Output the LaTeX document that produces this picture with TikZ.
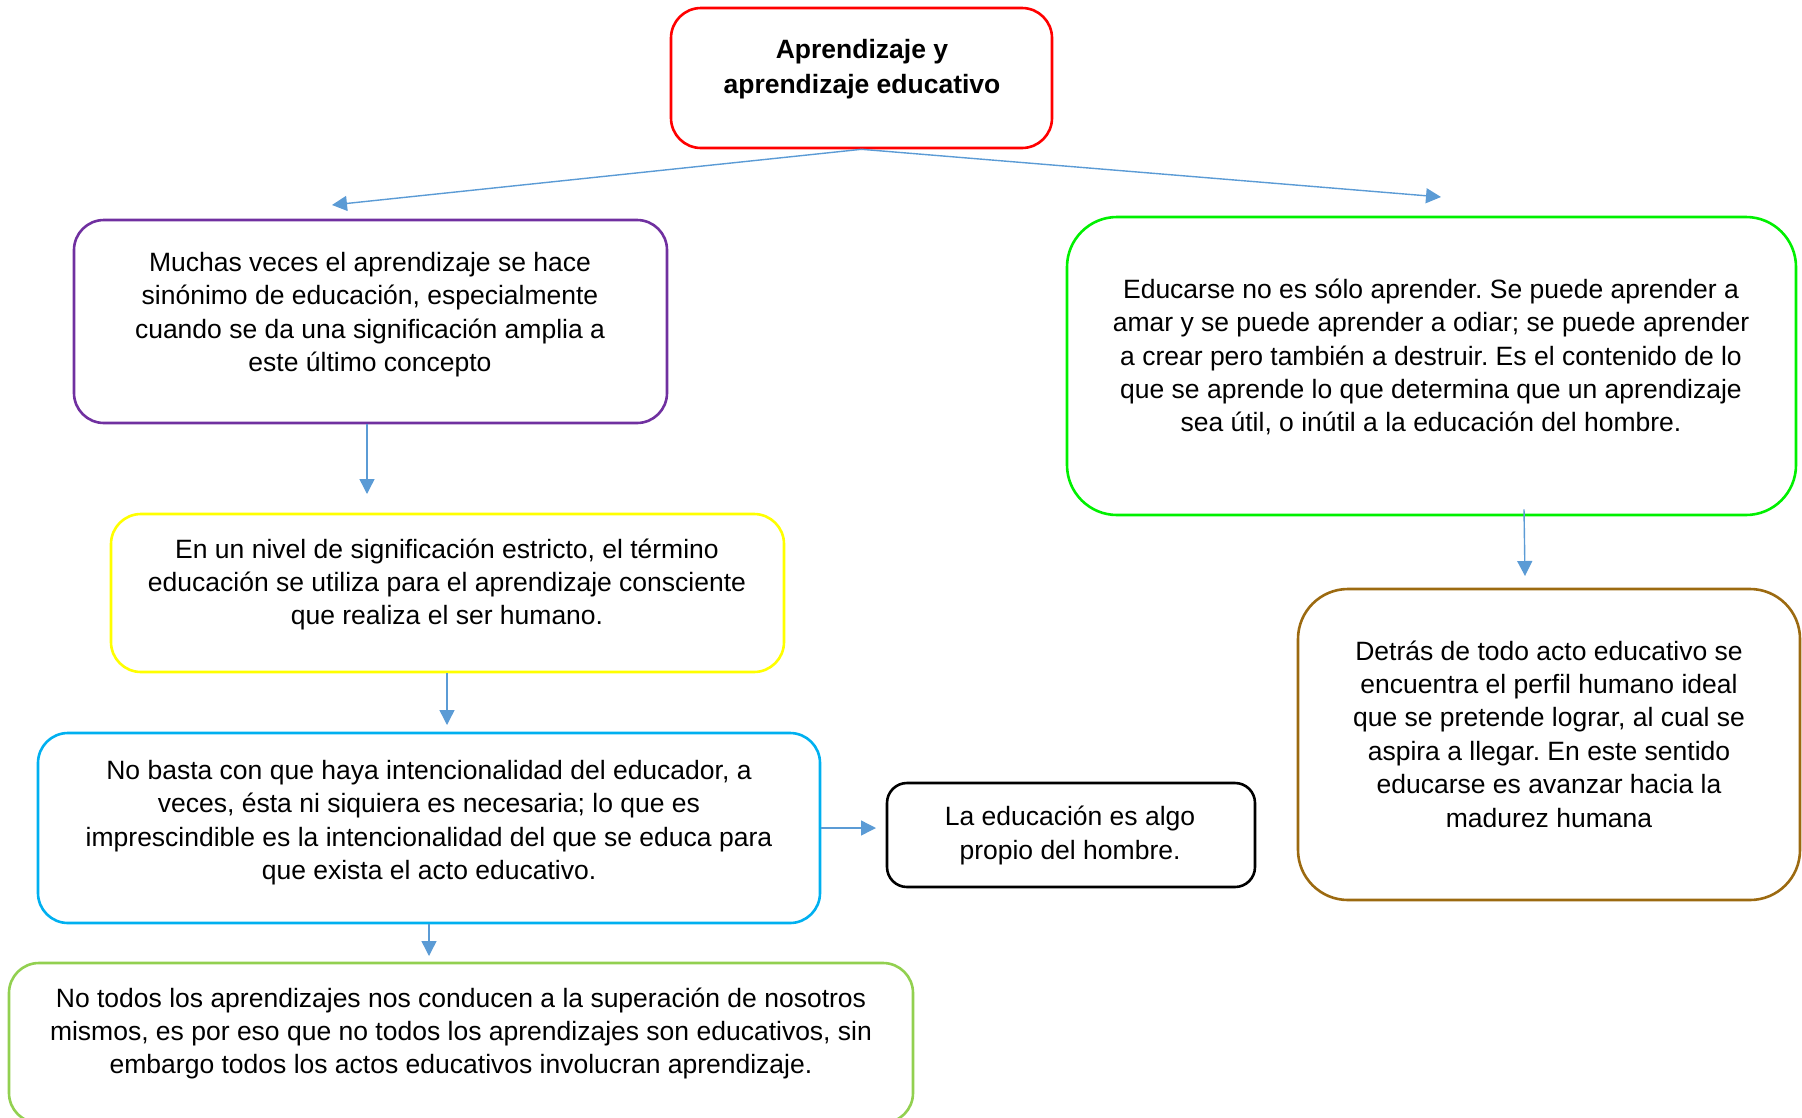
\documentclass[tikz,border=0pt]{standalone}
\usepackage{fontspec}
\setmainfont{Liberation Sans}
\usetikzlibrary{arrows.meta}
\definecolor{arrblue}{HTML}{5B9BD5}
\definecolor{cred}{HTML}{FF0000}
\definecolor{cpurple}{HTML}{7030A0}
\definecolor{cgreen}{HTML}{00F000}
\definecolor{cyellow}{HTML}{FFFF00}
\definecolor{ccyan}{HTML}{00B0F0}
\definecolor{cbrown}{HTML}{9C6A10}
\definecolor{clgreen}{HTML}{92D050}
\tikzset{
  box/.style={draw=#1, line width=2.6pt, rounded corners=30pt, inner sep=0pt},
  txt/.style={align=center, inner sep=0pt, font=\fontsize{26.5}{33.4}\selectfont},
  arr/.style={draw=arrblue, line width=1.4pt, -{Triangle[length=15pt,width=15pt]}}
}
\frenchspacing
\begin{document}
\frenchspacing
\begin{tikzpicture}[x=1pt,y=-1pt]
\useasboundingbox (0,0) rectangle (1802,1117);
% boxes
\node[box=cred, minimum width=381pt, minimum height=140pt] (top) at (861.5,78) {};
\node[box=cpurple, minimum width=593pt, minimum height=203pt] (pur) at (370.5,321.5) {};
\node[box=cgreen, rounded corners=50pt, minimum width=729pt, minimum height=298pt] (grn) at (1431.5,366) {};
\node[box=cyellow, minimum width=673pt, minimum height=158pt] (yel) at (447.5,593) {};
\node[box=ccyan, minimum width=782pt, minimum height=190pt] (cya) at (429,828) {};
\node[box=black, rounded corners=20pt, minimum width=368pt, minimum height=104pt] (blk) at (1071,835) {};
\node[box=cbrown, rounded corners=50pt, minimum width=502pt, minimum height=311pt] (brw) at (1549,744.5) {};
\node[box=clgreen, minimum width=904pt, minimum height=160pt] (lgr) at (461,1043) {};
% texts
\node[txt, font=\fontsize{26.5}{34.5}\selectfont\bfseries] (ttop) at (862,69) {Aprendizaje y\\aprendizaje educativo};
\node[txt] (tpur) at (370,314.5) {Muchas veces el aprendizaje se hace\\sinónimo de educación, especialmente\\cuando se da una significación amplia a\\este último concepto};
\node[txt] (tgrn) at (1431,357) {Educarse no es sólo aprender. Se puede aprender a\\amar y se puede aprender a odiar; se puede aprender\\a crear pero también a destruir. Es el contenido de lo\\que se aprende lo que determina que un aprendizaje\\sea útil, o inútil a la educación del hombre.};
\node[txt] (tyel) at (447,584.5) {En un nivel de significación estricto, el término\\educación se utiliza para el aprendizaje consciente\\que realiza el ser humano.};
\node[txt] (tcya) at (429,822.5) {No basta con que haya intencionalidad del educador, a\\veces, ésta ni siquiera es necesaria; lo que es\\imprescindible es la intencionalidad del que se educa para\\que exista el acto educativo.};
\node[txt] (tblk) at (1070,835.5) {La educación es algo\\propio del hombre.};
\node[txt] (tbrw) at (1549,734) {Detrás de todo acto educativo se\\encuentra el perfil humano ideal\\que se pretende lograr, al cual se\\aspira a llegar. En este sentido\\educarse es avanzar hacia la\\madurez humana};
\node[txt] (tlgr) at (461,1033.5) {No todos los aprendizajes nos conducen a la superación de nosotros\\mismos, es por eso que no todos los aprendizajes son educativos, sin\\embargo todos los actos educativos involucran aprendizaje.};
% arrow ends
\coordinate (e1) at (332,205);
\coordinate (e2) at (1441,197);
\coordinate (e3) at (367,494);
\coordinate (e4) at (1525,576);
\coordinate (e5) at (447,725);
\coordinate (e6) at (876,828);
\coordinate (e7) at (429,956);
% connectors
\draw[arr] (top.south) -- (e1);
\draw[arr] (top.south) -- (e2);
\draw[arr] (e3 |- pur.south) -- (e3);
\draw[arr] ([xshift=92.5pt,yshift=7pt]grn.south) -- (e4);
\draw[arr] (e5 |- yel.south) -- (e5);
\draw[arr] (cya.east) -- (e6);
\draw[arr] (cya.south) -- (e7);
\end{tikzpicture}
\end{document}
